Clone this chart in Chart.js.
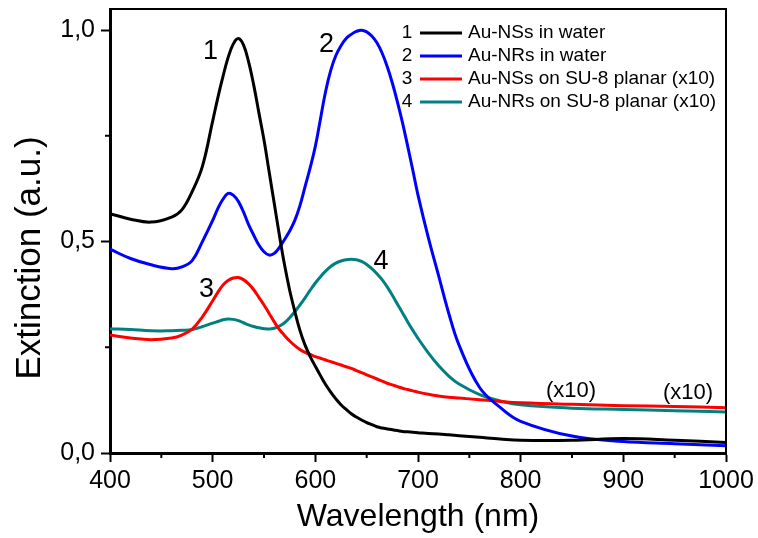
<!DOCTYPE html>
<html>
<head>
<meta charset="utf-8">
<script src="https://cdn.jsdelivr.net/npm/chart.js@4.4.1/dist/chart.umd.min.js"></script>
<style>
  html, body { margin: 0; padding: 0; background: #fff; }
  canvas { display: block; }
</style>
</head>
<body>
<canvas id="extinctionChart" width="758" height="538"></canvas>
<script>
// wavelengths (nm) shared by all four spectra
const wavelengths = [400, 420, 440, 460, 470, 480, 490,
    500, 505, 510, 515, 520, 525, 530, 535, 540, 545, 550, 555, 560, 565, 570, 575, 580, 585, 590, 595, 600,
    605, 610, 615, 620, 625, 630, 635, 640, 645, 650, 655, 660, 665, 670, 675, 680, 685, 690, 695, 700,
    710, 720, 730, 740, 760, 780, 800, 850, 900, 950, 1000];

// 1 - Au-NSs in water
const nsWater = [0.566, 0.553, 0.546, 0.558, 0.575, 0.618, 0.678,
    0.785, 0.84, 0.89, 0.935, 0.967, 0.98, 0.965, 0.925, 0.87, 0.805, 0.74, 0.665, 0.59, 0.515, 0.445, 0.385, 0.335, 0.29, 0.255, 0.228, 0.205,
    0.183, 0.162, 0.144, 0.128, 0.114, 0.103, 0.093, 0.085, 0.078, 0.072, 0.067, 0.062, 0.059, 0.057, 0.055, 0.053, 0.051, 0.05, 0.049, 0.048,
    0.046, 0.045, 0.043, 0.041, 0.037, 0.033, 0.03, 0.03, 0.034, 0.03, 0.025];

// 2 - Au-NRs in water
const nrWater = [0.482, 0.46, 0.445, 0.436, 0.44, 0.455, 0.50,
    0.55, 0.578, 0.60, 0.614, 0.61, 0.595, 0.57, 0.54, 0.515, 0.492, 0.476, 0.468, 0.472, 0.486, 0.505, 0.525, 0.55, 0.585, 0.63, 0.675, 0.725,
    0.79, 0.855, 0.905, 0.94, 0.963, 0.98, 0.99, 0.997, 1.0, 0.996, 0.986, 0.97, 0.946, 0.914, 0.875, 0.83, 0.78, 0.725, 0.668, 0.61,
    0.51, 0.42, 0.33, 0.255, 0.155, 0.108, 0.075, 0.04, 0.027, 0.022, 0.017];

// 3 - Au-NSs on SU-8 planar (x10)
const nsPlanar = [0.279, 0.272, 0.268, 0.272, 0.279, 0.293, 0.322,
    0.36, 0.38, 0.397, 0.408, 0.414, 0.415, 0.41, 0.40, 0.386, 0.368, 0.35, 0.33, 0.31, 0.292, 0.278, 0.265, 0.254, 0.245, 0.238, 0.233, 0.228,
    0.224, 0.22, 0.216, 0.212, 0.208, 0.204, 0.20, 0.195, 0.19, 0.185, 0.18, 0.175, 0.17, 0.165, 0.161, 0.157, 0.153, 0.15, 0.147, 0.144,
    0.139, 0.135, 0.132, 0.13, 0.126, 0.122, 0.119, 0.115, 0.112, 0.11, 0.107];

// 4 - Au-NRs on SU-8 planar (x10)
const nrPlanar = [0.294, 0.292, 0.289, 0.289, 0.29, 0.292, 0.299,
    0.307, 0.311, 0.315, 0.317, 0.316, 0.313, 0.308, 0.303, 0.299, 0.296, 0.294, 0.293, 0.295, 0.30, 0.308, 0.32, 0.334, 0.35, 0.367, 0.385, 0.402,
    0.417, 0.43, 0.441, 0.449, 0.454, 0.457, 0.458, 0.457, 0.453, 0.446, 0.436, 0.424, 0.41, 0.393, 0.373, 0.352, 0.331, 0.31, 0.29, 0.271,
    0.237, 0.207, 0.182, 0.163, 0.138, 0.123, 0.114, 0.106, 0.103, 0.1, 0.097];

const seriesLabels = ['Au-NSs in water', 'Au-NRs in water', 'Au-NSs on SU-8 planar (x10)', 'Au-NRs on SU-8 planar (x10)'];
const seriesNumbers = ['1', '2', '3', '4'];
const seriesColors = ['#000000', '#0000ff', '#ff0000', '#008080'];

const xTickValues = [400, 500, 600, 700, 800, 900, 1000];
const xMinorTicks = [450, 550, 650, 750, 850, 950];
const yTickValues = [0, 0.5, 1.0];
const yMinorTicks = [0.25, 0.75];

// text written next to the curves (placed in data units)
const curveNotes = [
    { text: '1', x: 498, y: 0.95 },
    { text: '2', x: 611, y: 0.966 },
    { text: '3', x: 494, y: 0.386 },
    { text: '4', x: 664, y: 0.452 },
    { text: '(x10)', x: 849, y: 0.147 },
    { text: '(x10)', x: 963, y: 0.142 }
];

const fontFamily = 'Arial, "Liberation Sans", sans-serif';
Chart.defaults.color = '#000';
Chart.defaults.font.family = fontFamily;

function toPoints(values) {
    return wavelengths.map((w, i) => ({ x: w, y: values[i] }));
}

const datasets = [nsWater, nrWater, nsPlanar, nrPlanar].map((values, i) => ({
    label: seriesLabels[i],
    data: toPoints(values),
    borderColor: seriesColors[i],
    borderWidth: 3,
    pointRadius: 0,
    tension: 0.4,
    fill: false
}));

// frame, minor ticks, y title, curve numbers and the numbered legend
const extras = {
    id: 'extras',
    afterDraw(chart) {
        const { ctx, chartArea: a, scales: { x, y } } = chart;
        ctx.save();
        ctx.strokeStyle = '#000';
        ctx.lineWidth = 2;
        ctx.beginPath();
        ctx.moveTo(a.left, a.top);
        ctx.lineTo(a.right, a.top);
        ctx.lineTo(a.right, a.bottom);
        ctx.stroke();

        ctx.beginPath();
        xMinorTicks.forEach(v => {
            const px = x.getPixelForValue(v);
            ctx.moveTo(px, a.bottom);
            ctx.lineTo(px, a.bottom + 5);
        });
        yMinorTicks.forEach(v => {
            const py = y.getPixelForValue(v);
            ctx.moveTo(a.left, py);
            ctx.lineTo(a.left - 5, py);
        });
        ctx.stroke();

        ctx.fillStyle = '#000';
        ctx.textAlign = 'center';
        ctx.textBaseline = 'middle';

        // y axis title, sits a little below the middle of the axis
        ctx.save();
        ctx.translate(30, a.top + 249);
        ctx.rotate(-Math.PI / 2);
        ctx.font = '35px ' + fontFamily;
        ctx.fillText('Extinction (a.u.)', 0, 0);
        ctx.restore();

        curveNotes.forEach(n => {
            ctx.font = (n.text.length > 1 ? '22px ' : '27px ') + fontFamily;
            ctx.fillText(n.text, x.getPixelForValue(n.x), y.getPixelForValue(n.y));
        });

        // legend
        ctx.font = '19px ' + fontFamily;
        chart.data.datasets.forEach((ds, i) => {
            const rowY = a.top + 24 + 23 * i;
            ctx.textAlign = 'center';
            ctx.fillStyle = '#000';
            ctx.fillText(seriesNumbers[i], a.left + 297, rowY);
            ctx.strokeStyle = ds.borderColor;
            ctx.lineWidth = 3;
            ctx.beginPath();
            ctx.moveTo(a.left + 310, rowY);
            ctx.lineTo(a.left + 352, rowY);
            ctx.stroke();
            ctx.textAlign = 'left';
            ctx.fillText(ds.label, a.left + 358, rowY);
        });
        ctx.restore();
    }
};

const ctx = document.getElementById('extinctionChart').getContext('2d');
const extinctionChart = new Chart(ctx, {
    type: 'line',
    data: { datasets: datasets },
    options: {
        responsive: false,
        animation: false,
        layout: { padding: { top: 9, right: 32, left: 0, bottom: 0 } },
        plugins: {
            legend: { display: false },
            tooltip: { enabled: false }
        },
        scales: {
            x: {
                type: 'linear',
                min: 400,
                max: 1000,
                afterBuildTicks: scale => { scale.ticks = xTickValues.map(v => ({ value: v })); },
                afterFit: scale => {
                    scale.height = 85;
                    scale.paddingLeft = 0;
                    scale.paddingRight = 0;
                },
                ticks: {
                    font: { size: 25 },
                    padding: 4,
                    maxRotation: 0,
                    callback: v => String(v)
                },
                grid: { drawOnChartArea: false, tickLength: 9, tickWidth: 2, tickColor: '#000' },
                border: { display: true, color: '#000', width: 3 },
                title: {
                    display: true,
                    text: 'Wavelength (nm)',
                    font: { size: 32 },
                    padding: { top: 0, bottom: 2 }
                }
            },
            y: {
                min: 0,
                max: 1.05,
                afterBuildTicks: scale => { scale.ticks = yTickValues.map(v => ({ value: v })); },
                afterFit: scale => {
                    scale.width = 110;
                    scale.paddingTop = 0;
                    scale.paddingBottom = 0;
                },
                ticks: {
                    font: { size: 25 },
                    padding: 6,
                    callback: v => v.toFixed(1).replace('.', ',')
                },
                grid: { drawOnChartArea: false, tickLength: 9, tickWidth: 2, tickColor: '#000' },
                border: { display: true, color: '#000', width: 3 }
            }
        }
    },
    plugins: [extras]
});
</script>
</body>
</html>
